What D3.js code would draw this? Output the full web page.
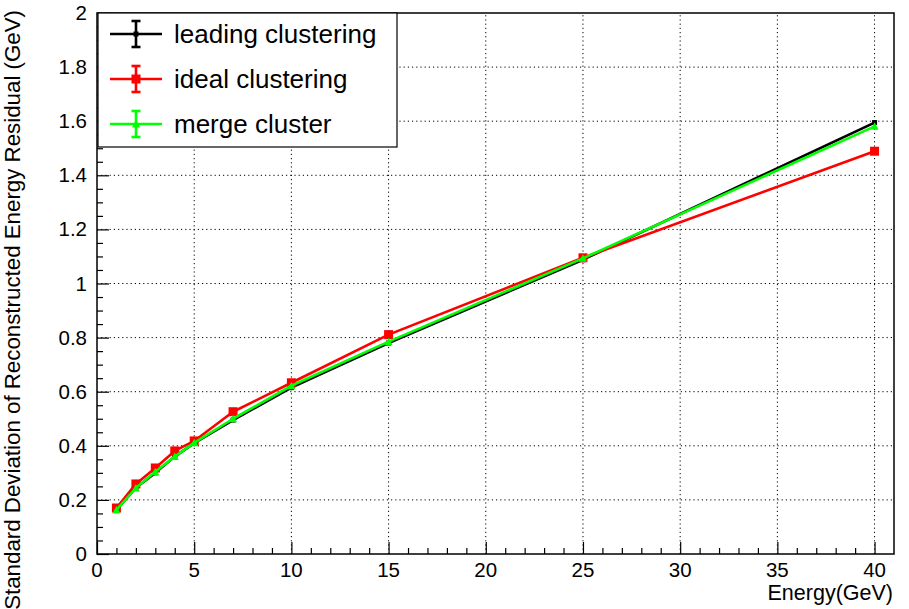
<!DOCTYPE html>
<html>
<head>
<meta charset="utf-8">
<script src="https://cdn.jsdelivr.net/npm/d3@7"></script>
<style>
  html, body { margin: 0; padding: 0; background: #fff; }
  svg { display: block; }
  text { font-family: "Liberation Sans", Arial, Helvetica, sans-serif; fill: #000; }
</style>
</head>
<body>
<svg id="chart" width="909" height="609"></svg>
<script>
// Beam energies (GeV)
const energies = [1, 2, 3, 4, 5, 7, 10, 15, 25, 40];

// Standard deviation of reconstructed energy residual (GeV) per clustering method
const leadingClustering = [0.163, 0.245, 0.300, 0.360, 0.410, 0.495, 0.615, 0.780, 1.088, 1.595];
const idealClustering   = [0.170, 0.259, 0.318, 0.381, 0.418, 0.526, 0.633, 0.811, 1.095, 1.489];
const mergeCluster      = [0.163, 0.244, 0.304, 0.360, 0.411, 0.500, 0.622, 0.785, 1.093, 1.581];

const seriesNames = ["leading clustering", "ideal clustering", "merge cluster"];
const xTicks = [0, 5, 10, 15, 20, 25, 30, 35, 40];
const yTicks = [0, 0.2, 0.4, 0.6, 0.8, 1, 1.2, 1.4, 1.6, 1.8, 2];

const series = [
  { name: seriesNames[0], values: leadingClustering, color: "#000000", marker: "smallSquare" },
  { name: seriesNames[1], values: idealClustering,   color: "#ff0000", marker: "square" },
  { name: seriesNames[2], values: mergeCluster,      color: "#00ff00", marker: "triangle" }
];

const svg = d3.select("#chart");
const frameL = 97, frameR = 894, frameT = 13, frameB = 554;

const x = d3.scaleLinear().domain([0, 41]).range([frameL, frameR]);
const y = d3.scaleLinear().domain([0, 2]).range([frameB, frameT]);

// Dotted grid at the major ticks
const grid = svg.append("g");
grid.selectAll("line.gx").data(xTicks.filter(t => t > 0)).join("line")
  .attr("x1", d => x(d)).attr("x2", d => x(d))
  .attr("y1", frameB).attr("y2", frameT)
  .attr("stroke", "#000").attr("stroke-width", 1).attr("stroke-dasharray", "1.2,3");
grid.selectAll("line.gy").data(yTicks.filter(t => t > 0 && t < 2)).join("line")
  .attr("x1", frameL).attr("x2", frameR)
  .attr("y1", d => y(d)).attr("y2", d => y(d))
  .attr("stroke", "#000").attr("stroke-width", 1).attr("stroke-dasharray", "1.2,3");

// Axes drawn with inward ticks (major + minor)
const xAxis = d3.axisTop(x).tickValues(xTicks).tickSize(12).tickFormat("");
const xMinor = d3.axisTop(x).tickValues(d3.range(1, 41).filter(v => v % 5 !== 0)).tickSize(6).tickFormat("");
const yAxis = d3.axisRight(y).tickValues(yTicks).tickSize(12).tickFormat("");
const yMinor = d3.axisRight(y).tickValues(d3.range(1, 40).filter(v => v % 4 !== 0).map(v => v * 0.05)).tickSize(6).tickFormat("");

[[xAxis, `translate(0,${frameB})`], [xMinor, `translate(0,${frameB})`],
 [yAxis, `translate(${frameL},0)`], [yMinor, `translate(${frameL},0)`]].forEach(([ax, tr]) => {
  const g = svg.append("g").attr("transform", tr).call(ax);
  g.select(".domain").remove();
  g.selectAll("line").attr("stroke", "#000").attr("stroke-width", 1.2);
});

// Tick labels
svg.append("g").selectAll("text").data(xTicks).join("text")
  .attr("x", d => x(d)).attr("y", 577)
  .attr("text-anchor", "middle").attr("font-size", 20.5)
  .text(d => d);
svg.append("g").selectAll("text").data(yTicks).join("text")
  .attr("x", 87).attr("y", d => y(d) + 7)
  .attr("text-anchor", "end").attr("font-size", 20.5)
  .text(d => d3.format("~g")(d));

// Axis titles
svg.append("text").attr("x", 893).attr("y", 600)
  .attr("text-anchor", "end").attr("font-size", 21.5)
  .text("Energy(GeV)");
svg.append("text")
  .attr("transform", "translate(20,10) rotate(-90)")
  .attr("text-anchor", "end").attr("font-size", 22.3)
  .text("Standard Deviation of Reconstructed Energy Residual (GeV)");

// Marker shapes
function drawMarker(g, type, cx, cy, color) {
  if (type === "smallSquare") {
    g.append("rect").attr("x", cx - 2.5).attr("y", cy - 2.5).attr("width", 5).attr("height", 5).attr("fill", color);
  } else if (type === "square") {
    g.append("rect").attr("x", cx - 4.5).attr("y", cy - 4.5).attr("width", 9).attr("height", 9).attr("fill", color);
  } else {
    g.append("path")
      .attr("d", `M${cx},${cy - 4} L${cx + 4},${cy + 3.5} L${cx - 4},${cy + 3.5} Z`)
      .attr("fill", color);
  }
}

// Data lines and markers
const line = d3.line().x(d => x(d[0])).y(d => y(d[1]));
series.forEach(s => {
  const pts = energies.map((e, i) => [e, s.values[i]]);
  const g = svg.append("g");
  g.append("path").datum(pts).attr("d", line)
    .attr("fill", "none").attr("stroke", s.color).attr("stroke-width", 2.6)
    .attr("stroke-linejoin", "round");
  pts.forEach(p => drawMarker(g, s.marker, x(p[0]), y(p[1]), s.color));
});

// Frame
svg.append("rect").attr("x", frameL).attr("y", frameT)
  .attr("width", frameR - frameL).attr("height", frameB - frameT)
  .attr("fill", "none").attr("stroke", "#000").attr("stroke-width", 1.5);

// Legend
const legend = svg.append("g");
legend.append("rect").attr("x", 98).attr("y", 13).attr("width", 299).attr("height", 134)
  .attr("fill", "#fff").attr("stroke", "#000").attr("stroke-width", 1.2);
const legendY = [34, 79, 124];
series.forEach((s, i) => {
  const cy = legendY[i];
  const g = legend.append("g");
  g.append("line").attr("x1", 110).attr("x2", 162).attr("y1", cy).attr("y2", cy)
    .attr("stroke", s.color).attr("stroke-width", 2.6);
  g.append("line").attr("x1", 136).attr("x2", 136).attr("y1", cy - 13).attr("y2", cy + 13)
    .attr("stroke", s.color).attr("stroke-width", 2.6);
  [cy - 13, cy + 13].forEach(cyc => g.append("line")
    .attr("x1", 131.5).attr("x2", 140.5).attr("y1", cyc).attr("y2", cyc)
    .attr("stroke", s.color).attr("stroke-width", 2.6));
  drawMarker(g, s.marker, 136, cy, s.color);
  g.append("text").attr("x", 174).attr("y", cy + 9)
    .attr("font-size", 26).text(s.name);
});
</script>
</body>
</html>
